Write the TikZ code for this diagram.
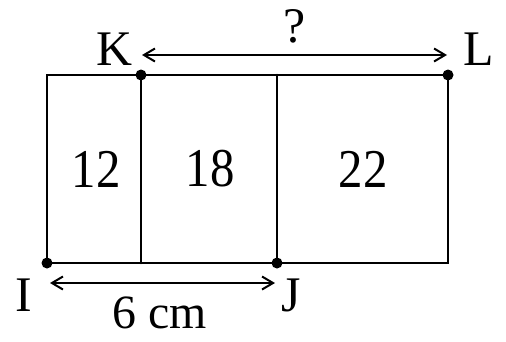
\documentclass[tikz,border=0pt]{standalone}
\usepackage{fontspec}
\setmainfont{Liberation Serif}
\usetikzlibrary{arrows.meta}
\begin{document}
\begin{tikzpicture}[x=1bp,y=-1bp,
  edge/.style={line width=2.6bp,line cap=round,line join=miter},
  dim/.style={line width=2bp,{Straight Barb[length=11bp,width=13bp,line width=2bp]}-{Straight Barb[length=11bp,width=13bp,line width=2bp]}},
  pt/.style={circle,fill=black,inner sep=0pt,minimum size=11bp},
  lbl/.style={inner sep=0pt,anchor=base,font=\fontsize{50}{54}\selectfont},
  num/.style={inner sep=0pt,yscale=1.12,font=\fontsize{49}{54}\selectfont}]
\useasboundingbox (0,0) rectangle (506,341);
\coordinate (TL) at (47,75);
\coordinate (M1b) at (141,263);
\coordinate (M2t) at (277,75);
\coordinate (Rb) at (448,263);
\node[pt] (K) at (141,75) {};
\node[pt] (L) at (448,75) {};
\node[pt] (I) at (47,263) {};
\node[pt] (J) at (277,263) {};
\draw[edge] (I.center) -- (TL) -- (L.center) -- (Rb) -- cycle;
\draw[edge] (K.center) -- (M1b);
\draw[edge] (M2t) -- (J.center);
\node[lbl] (tK) at (114,65) {K};
\node[lbl] (tL) at (479,65) {L};
\node[lbl] (tI) at (24,311) {I};
\node[lbl] (tJ) at (291,311) {J};
\node[lbl,font=\fontsize{50}{54}\selectfont] (tq) at (295,42) {?};
\node[lbl,font=\fontsize{48}{52}\selectfont] (tcm) at (160,328) {6 cm};
\coordinate (a1) at (142,55);
\coordinate (a2) at (447,55);
\coordinate (b1) at (50,283);
\coordinate (b2) at (275,283);
\draw[dim] (a1) -- (a2);
\draw[dim] (b1) -- (b2);
\node[num] (n12) at (96,169) {12};
\node[num] (n18) at (210,169) {18};
\node[num] (n22) at (363,169) {22};
\end{tikzpicture}
\end{document}
